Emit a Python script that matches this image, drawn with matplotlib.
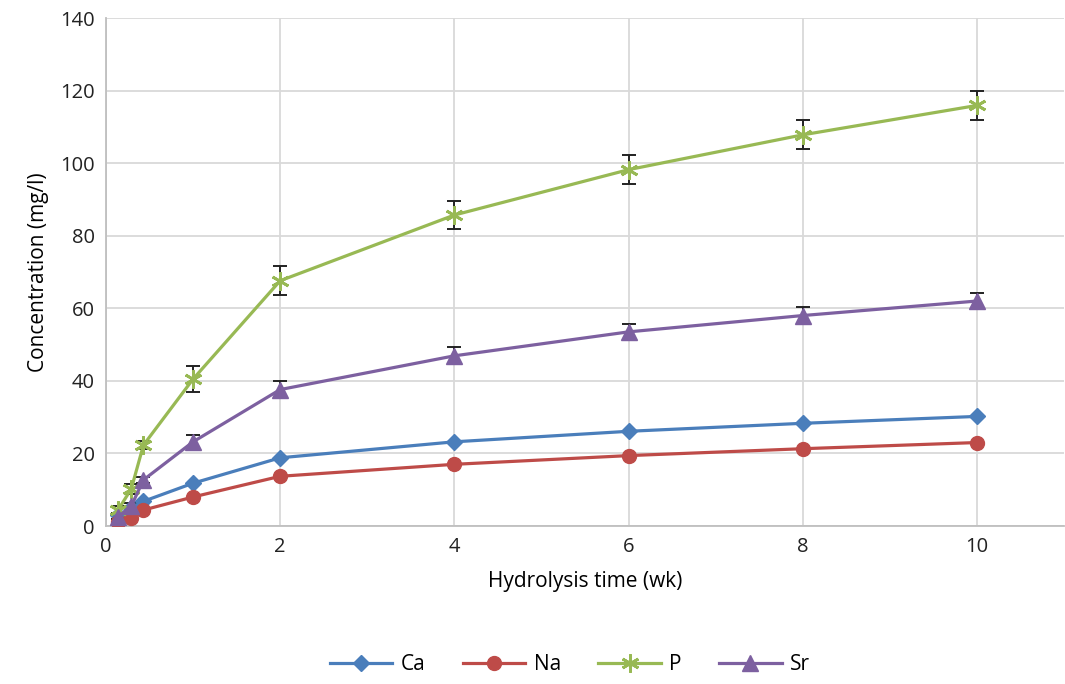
import matplotlib

matplotlib.use("Agg")
import matplotlib.pyplot as plt

plt.rcParams["font.family"] = ["Open Sans", "DejaVu Sans"]

weeks = [0.14, 0.29, 0.43, 1, 2, 4, 6, 8, 10]
ca = [3.0, 5.0, 6.8, 11.8, 18.8, 23.2, 26.1, 28.3, 30.2]
na = [1.0, 2.2, 4.4, 8.0, 13.7, 17.0, 19.4, 21.3, 23.0]
p = [4.5, 10.2, 22.3, 40.5, 67.6, 85.7, 98.2, 107.8, 115.9]
p_err = [1.0, 1.5, 1.0, 3.5, 4.0, 3.9, 4.0, 4.0, 4.0]
sr = [2.5, 5.5, 12.7, 23.2, 37.6, 46.9, 53.5, 58.0, 62.0]
sr_err = [0.5, 0.8, 0.8, 2.0, 2.3, 2.3, 2.3, 2.3, 2.3]

fig = plt.figure(figsize=(10.65, 6.84), dpi=100)
ax = fig.add_axes([106 / 1065, 1 - 526 / 684, (1064 - 106) / 1065, (526 - 18) / 684])

ebkw = dict(ecolor="#222222", elinewidth=1.4, capsize=5, capthick=1.4)
ax.errorbar(weeks, p, yerr=p_err, fmt="none", zorder=2, **ebkw)
ax.errorbar(weeks, sr, yerr=sr_err, fmt="none", zorder=2, **ebkw)

ax.plot(weeks, ca, color="#4a7ebb", marker="D", ms=8, lw=2.3, label="Ca", zorder=3)
ax.plot(weeks, na, color="#be4b48", marker="o", ms=10, lw=2.3, label="Na", zorder=3)
ax.plot(weeks, p, color="#98b954", marker=(6, 2, 0), ms=13, mew=2, lw=2.3, label="P", zorder=3)
ax.plot(weeks, sr, color="#7d60a0", marker="^", ms=11, lw=2.3, label="Sr", zorder=3)

ax.set_xlim(0, 11)
ax.set_ylim(0, 140)
ax.set_xticks(range(0, 11, 2))
ax.set_yticks(range(0, 141, 20))
ax.grid(True, color="#d9d9d9", lw=1.3)
ax.set_axisbelow(True)
for s in ["top", "right"]:
    ax.spines[s].set_visible(False)
for s in ["left", "bottom"]:
    ax.spines[s].set_color("#bfbfbf")
    ax.spines[s].set_linewidth(1.3)
ax.tick_params(length=0, labelsize=14.5, colors="#222222", pad=8)

ax.set_xlabel("Hydrolysis time (wk)", fontsize=15, labelpad=10)
ax.set_ylabel("Concentration (mg/l)", fontsize=15, labelpad=8)

fig.legend(loc="center", bbox_to_anchor=(0.535, 1 - 665 / 684),
           ncol=4, frameon=False, fontsize=15, handlelength=3, columnspacing=1.8,
           handletextpad=0.4)

fig.savefig("out.png", dpi=100)
